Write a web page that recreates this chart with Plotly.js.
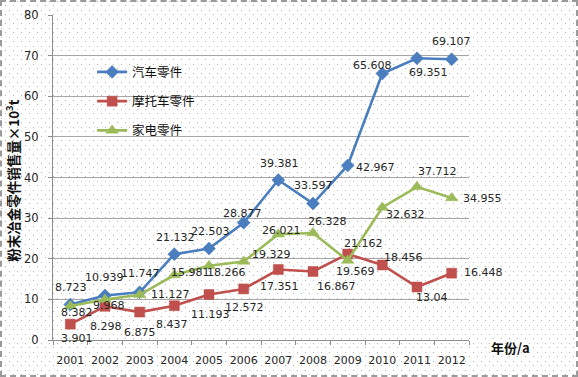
<!DOCTYPE html>
<html>
<head>
<meta charset="utf-8">
<script src="https://cdn.plot.ly/plotly-3.0.1.min.js"></script>
<style>
  html, body { margin: 0; padding: 0; background: #fff; }
  #wrap { position: relative; width: 578px; height: 377px; overflow: hidden;
    background-image: url("data:image/svg+xml,%3Csvg xmlns='http://www.w3.org/2000/svg' width='8' height='9'%3E%3Crect x='1' y='1' width='1' height='1' fill='%23b4b4b4'/%3E%3Crect x='5' y='5' width='1' height='1' fill='%23b4b4b4'/%3E%3C/svg%3E"); }
  #chart { position: absolute; left: 0; top: 0; width: 578px; height: 377px; }
  #frame { position: absolute; left: 0; top: 0; width: 578px; height: 377px; box-sizing: border-box;
    border: 2px dashed #9a9a9a; pointer-events: none; }
</style>
</head>
<body>
<div id="wrap"><div id="chart"></div><div id="frame"></div></div>
<script>
// ---- data ----
const years = ["2001","2002","2003","2004","2005","2006","2007","2008","2009","2010","2011","2012"];
const autoParts = [8.723, 10.939, 11.747, 21.132, 22.503, 28.877, 39.381, 33.597, 42.967, 65.608, 69.351, 69.107];
const motoParts = [3.901, 8.298, 6.875, 8.437, 11.193, 12.572, 17.351, 16.867, 21.162, 18.456, 13.04, 16.448];
const applianceParts = [8.382, 9.968, 11.127, 15.981, 18.266, 19.329, 26.021, 26.328, 19.569, 32.632, 37.712, 34.955];
const seriesNames = ["汽车零件", "摩托车零件", "家电零件"];
const yTitle = "粉末冶金零件销售量×10<sup>3</sup>t";
const xTitle = "年份/a";

// ---- label offsets in px (dx right, dy down) ----
const autoOff = [[1,-17],[-1,-18],[1,-19],[1,-17],[1,-17],[-1,-9],[1,-17],[0,-18],[28,2],[-10,-8],[11,14],[0,-18]];
const motoOff = [[7,14],[1,20],[0,20],[-2,19],[1,20],[1,19],[1,17],[23,15],[16,-11],[21,-8],[15,10],[32,-1]];
const appOff  = [[7,7],[4,6],[31,0],[16,-3],[17,7],[28,-7],[3,-4],[14,-12],[8,11],[23,7],[20,-15],[31,0]];

const cBlue = "#4a7ebf", cRed = "#c0504d", cGreen = "#9bbb59";
const numFont = "DejaVu Sans, Verdana, sans-serif";
const cjkFont = "Noto Sans CJK SC, sans-serif";

function trace(name, vals, color, symbol, size, group) {
  return {
    type: "scatter", mode: "lines+markers", name: name, x: years, y: vals,
    legendgroup: group,
    line: { color: color, width: 2.6 },
    marker: { color: color, symbol: symbol, size: size, line: { color: color, width: 0.5 } },
    hoverinfo: "skip"
  };
}

const data = [
  trace(seriesNames[0], autoParts, cBlue, "diamond", 10, "a"),
  trace(seriesNames[1], motoParts, cRed, "square", 10, "b"),
  trace(seriesNames[2], applianceParts, cGreen, "triangle-up", 11, "c")
];

const annotations = [];
function addLabels(vals, offs) {
  vals.forEach((v, i) => {
    annotations.push({
      x: i, y: v, xref: "x", yref: "y", text: String(v), showarrow: false,
      xanchor: "center", yanchor: "middle",
      xshift: offs[i][0], yshift: -offs[i][1],
      font: { family: numFont, size: 11, color: "#262626" }
    });
  });
}
addLabels(autoParts, autoOff);
addLabels(motoParts, motoOff);
addLabels(applianceParts, appOff);

annotations.push({
  xref: "paper", yref: "paper", x: 1.1, y: -0.022, text: "<b>" + xTitle + "</b>",
  showarrow: false, xanchor: "center", yanchor: "middle",
  font: { family: cjkFont, size: 13, color: "#111" }
});
annotations.push({
  xref: "paper", yref: "paper", x: -0.096, y: 0.49, text: "<b>" + yTitle + "</b>",
  showarrow: false, xanchor: "center", yanchor: "middle", textangle: -90,
  font: { family: cjkFont, size: 13.5, color: "#111" }
});

const layout = {
  width: 578, height: 377,
  margin: { l: 53, r: 109, t: 15, b: 37, pad: 0 },
  paper_bgcolor: "rgba(0,0,0,0)", plot_bgcolor: "rgba(0,0,0,0)",
  showlegend: true,
  legend: {
    x: 0.094, y: 0.87, xanchor: "left", yanchor: "top",
    bgcolor: "rgba(0,0,0,0)", tracegroupgap: 10,
    font: { family: cjkFont, size: 12.5, color: "#111" },
    itemwidth: 30
  },
  xaxis: {
    type: "category", range: [-0.5, 11.5], tickangle: 0,
    showline: true, linecolor: "#8c8c8c", linewidth: 1,
    ticks: "outside", ticklen: 4, tickcolor: "#8c8c8c", tickson: "boundaries",
    showgrid: false, zeroline: false, ticklabelstandoff: 10,
    tickfont: { family: numFont, size: 11, color: "#262626" }
  },
  yaxis: {
    range: [0, 80], dtick: 10, tick0: 0,
    showline: true, linecolor: "#8c8c8c", linewidth: 1,
    ticks: "outside", ticklen: 4, tickcolor: "#8c8c8c",
    showgrid: true, gridcolor: "#a6a6a6", gridwidth: 1, zeroline: false,
    ticklabelstandoff: 7,
    tickfont: { family: numFont, size: 11.5, color: "#262626" }
  },
  annotations: annotations
};

Plotly.newPlot("chart", data, layout, { staticPlot: true, displayModeBar: false });
</script>
</body>
</html>
